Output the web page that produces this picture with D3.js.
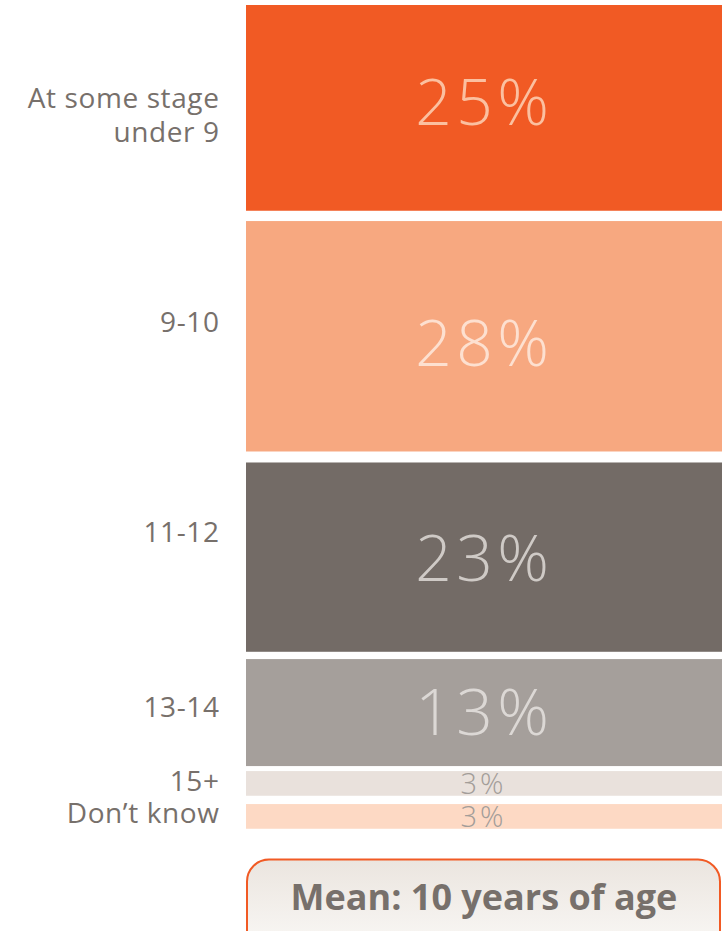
<!DOCTYPE html>
<html>
<head>
<meta charset="utf-8">
<script src="https://cdn.jsdelivr.net/npm/d3@7"></script>
<style>
  html, body { margin: 0; padding: 0; background: #fff; }
  svg { display: block; }
</style>
</head>
<body>
<svg id="chart" width="725" height="931"></svg>
<script>
// Age groups and share of respondents (%)
const categories = ["At some stage\nunder 9", "9-10", "11-12", "13-14", "15+", "Don\u2019t know"];
const values = [25, 28, 23, 13, 3, 3];
const valueLabels = ["25%", "28%", "23%", "13%", "3%", "3%"];
const meanLabel = "Mean: 10 years of age";

// Styling
const fills = ["#f15a24", "#f7a880", "#736b66", "#a59f9b", "#e9e1dc", "#fdd9c4"];
const valueColors = ["#fbc0a0", "#fde0d0", "#cfcac6", "#dcd8d5", "#a39d99", "#a39d99"];
const gaps = [10.3, 11, 7.3, 5, 8.3];            // white space between segments
const labelBaselines = [108, 332, 542, 717, 791, 823]; // first-line baseline of each left label
const valueShift = [-6, 7, 1, -1, 0, 0];          // nudge of value text from segment centre

const svg = d3.select("#chart");
const barLeft = 246, barRight = 722, barTop = 5;
const font = "'Open Sans', 'Noto Sans', sans-serif";

// vertical scale: percent -> pixels
const y = d3.scaleLinear().domain([0, 1]).range([0, 8.23]);

// stacked layout with gaps
let cursor = barTop;
const segs = values.map((v, i) => {
  const s = { i, v, y: cursor, h: y(v) };
  cursor += y(v) + (gaps[i] || 0);
  return s;
});

const g = svg.append("g");

g.selectAll("rect.seg")
  .data(segs)
  .join("rect")
  .attr("class", "seg")
  .attr("x", barLeft)
  .attr("width", barRight - barLeft)
  .attr("y", d => d.y)
  .attr("height", d => d.h)
  .attr("fill", d => fills[d.i]);

// values inside segments (letter-spacing trails, so shift right by half of it)
g.selectAll("text.val")
  .data(segs)
  .join("text")
  .attr("class", "val")
  .attr("x", d => 482 + (d.v >= 10 ? 2.25 : 1.5))
  .attr("y", d => d.y + d.h / 2 + valueShift[d.i])
  .attr("dy", "0.36em")
  .attr("text-anchor", "middle")
  .attr("font-family", font)
  .attr("font-weight", 300)
  .attr("font-size", d => d.v >= 10 ? 64 : 29)
  .attr("letter-spacing", d => d.v >= 10 ? 4.5 : 3)
  .attr("fill", d => valueColors[d.i])
  .text(d => valueLabels[d.i]);

// category labels on the left
const lab = g.selectAll("text.cat")
  .data(segs)
  .join("text")
  .attr("class", "cat")
  .attr("text-anchor", "end")
  .attr("font-family", font)
  .attr("font-size", 28)
  .attr("letter-spacing", 0.6)
  .attr("fill", "#77706b");

lab.each(function (d) {
  const lines = categories[d.i].split("\n");
  d3.select(this).selectAll("tspan")
    .data(lines)
    .join("tspan")
    .attr("x", 219.5)
    .attr("y", (l, k) => labelBaselines[d.i] + k * 33.5)
    .text(l => l);
});

// mean callout box
const defs = svg.append("defs");
const grad = defs.append("linearGradient")
  .attr("id", "boxFill").attr("x1", 0).attr("y1", 0).attr("x2", 0).attr("y2", 1);
grad.append("stop").attr("offset", "0%").attr("stop-color", "#ebe5df");
grad.append("stop").attr("offset", "100%").attr("stop-color", "#fbfaf8");

svg.append("rect")
  .attr("x", 247)
  .attr("y", 859.5)
  .attr("width", 473)
  .attr("height", 100)
  .attr("rx", 22)
  .attr("fill", "url(#boxFill)")
  .attr("stroke", "#f15a24")
  .attr("stroke-width", 2);

svg.append("text")
  .attr("x", 484)
  .attr("y", 910)
  .attr("text-anchor", "middle")
  .attr("font-family", font)
  .attr("font-weight", 700)
  .attr("font-size", 36)
  .attr("fill", "#77706b")
  .text(meanLabel);
</script>
</body>
</html>
